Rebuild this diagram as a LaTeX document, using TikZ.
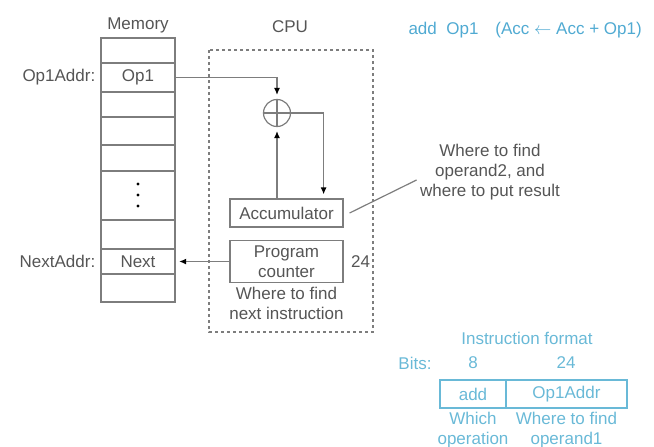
\documentclass[tikz,border=0pt]{standalone}
\usepackage{fontspec}
\setmainfont{Liberation Sans}
\usepackage{xcolor}
\usepackage{tikz}
\usetikzlibrary{
  arrows.meta,
  positioning,
  calc
}
\definecolor{txtgray}{RGB}{85,85,85}
\definecolor{linegray}{RGB}{125,125,125}
\definecolor{topblue}{RGB}{80,170,210}
\definecolor{fmtblue}{RGB}{105,185,215}

\begin{document}
\begin{tikzpicture}[x=1pt,y=-1pt,
  every node/.style={font=\fontsize{17}{20}\selectfont,text=txtgray},
  cell/.style={minimum width=74pt,minimum height=27pt,inner sep=0pt},
  reg/.style={draw=linegray,line width=1.2pt,minimum width=113pt,inner sep=0pt,align=center},
  wire/.style={draw=linegray,line width=1.2pt},
  arr/.style={wire,-{Latex[length=7pt,width=6pt,color=black]},shorten >=4pt},
  fmt/.style={text=fmtblue,align=center},
  fmtcell/.style={draw=fmtblue,line width=1.2pt,minimum height=28pt,inner sep=0pt,text=fmtblue}]
\useasboundingbox (0,0) rectangle (654,447);

% memory column
\node (memtitle) at (138,25) {Memory};
\draw[wire] (101,38) rectangle (175,302);
\foreach \yy in {63,92,117,145,171,220,249,274}
  \draw[wire] (101,\yy) -- (175,\yy);
\node[cell] (op1) at (138,77.5) {Op1};
\node[cell] (next) at (138,261.5) {Next};
\foreach \yy in {184,195,206}
  \fill[black] (138,\yy) circle (1.6pt);
\node[left=2pt of op1] (op1addr) {Op1Addr:};
\node[left=2pt of next] (nextaddr) {NextAddr:};

% cpu
\node (cputitle) at (290,27) {CPU};
\draw[wire,dashed] (209,50) rectangle (373,332);
\node[draw=linegray,line width=1.2pt,circle,minimum size=27pt,inner sep=0pt] (adder) at (277,113) {};
\draw[wire] (adder.west) -- (adder.east);
\draw[wire] (adder.north) -- (adder.south);
\node[reg,minimum height=28pt] (acc) at (286.5,213) {Accumulator};
\node[reg,minimum height=42pt] (pc) at (286.5,261.5) {Program\\counter};
\node[right=4pt of pc] (pcbits) {24};
\node[below=1pt of pc,align=center] (pcnote) {Where to find\\next instruction};

\draw[arr] (op1.east) -| (adder.north);
\draw[arr] (acc.north -| adder) -- (adder.south);
\draw[arr] (adder.east) -| ([xshift=-20pt]acc.north east);
\draw[arr] (pc.west) -- (next.east);

% operand2 note
\node[align=center] (accnote) at (490,172) {Where to find\\operand2, and\\where to put result};
\draw[wire] ([xshift=6pt]acc.east) -- ([yshift=-8pt]accnote.west);

% instruction
\node[anchor=west,text=topblue] (instr) at (405,30) {add\ \ Op1\quad(Acc $\leftarrow$ Acc + Op1)};

% instruction format
\node[fmt] (fmttitle) at (527,338) {Instruction format};
\node[fmtcell,minimum width=66pt] (addf) at (473,394) {add};
\node[fmtcell,minimum width=121pt] (op1f) at (566.5,394) {Op1Addr};
\node[fmt] (bits8) at (473,363) {8};
\node[fmt] (bits24) at (566,363) {24};
\node[fmt] (bitslbl) at (415,363) {Bits:};
\node[fmt,below=0pt of addf] (addnote) {Which\\operation};
\node[fmt,below=0pt of op1f] (op1note) {Where to find\\operand1};
\end{tikzpicture}
\end{document}
